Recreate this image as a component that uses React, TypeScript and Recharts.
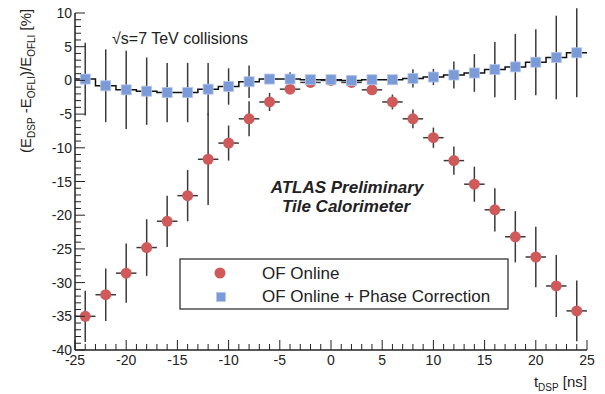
import { ComposedChart, Scatter, Line, XAxis, YAxis, ErrorBar } from 'recharts'

// bin centres of t_DSP [ns]
const tDsp = [-24, -22, -20, -18, -16, -14, -12, -10, -8, -6, -4, -2, 0, 2, 4, 6, 8, 10, 12, 14, 16, 18, 20, 22, 24]
const binHalfWidth = 1

// OF Online
const ofOnline = [-35.0, -31.8, -28.6, -24.8, -20.9, -17.1, -11.7, -9.3, -5.7, -3.2, -1.3, -0.3, 0.0, -0.3, -1.4, -3.2, -5.7, -8.5, -11.9, -15.4, -19.2, -23.2, -26.2, -30.5, -34.2]
const ofOnlineErr = [3.8, 3.9, 4.4, 4.2, 3.8, 3.8, 6.8, 2.6, 2.6, 1.35, 0.7, 0.3, 0.2, 0.3, 0.6, 1.1, 1.4, 1.5, 2.1, 2.6, 3.2, 3.8, 4.5, 4.6, 4.5]

// OF Online + Phase Correction
const phaseCorr = [0.2, -0.8, -1.4, -1.6, -1.8, -1.8, -1.3, -0.9, -0.2, 0.2, 0.2, 0.1, 0.1, 0.0, 0.1, 0.1, 0.3, 0.5, 0.8, 1.1, 1.6, 2.0, 2.7, 3.4, 4.1]
const phaseCorrErr = [5.4, 5.4, 5.8, 5.0, 4.4, 4.4, 3.9, 2.7, 2.4, 0.6, 1.0, 0.3, 0.3, 0.3, 0.3, 0.5, 1.35, 1.2, 2.0, 2.8, 4.1, 4.9, 4.9, 6.2, 6.6]

const xDomain: [number, number] = [-25, 25]
const yDomain: [number, number] = [-40, 10]
const xTicks = Array.from({ length: 51 }, (_, i) => i - 25)
const yTicks = Array.from({ length: 51 }, (_, i) => i - 40)

const RED = '#d05a5a'
const BLUE = '#7b9ad8'
const INK = '#222'
const FONT = '"Liberation Sans", Arial, Helvetica, sans-serif'

const redData = tDsp.map((x, i) => ({ x, y: ofOnline[i], ey: ofOnlineErr[i], ex: binHalfWidth }))
const blueData = tDsp.map((x, i) => ({ x, y: phaseCorr[i], ey: phaseCorrErr[i] }))
// histogram outline: left edge of every bin, plus the right edge of the last one
const stepData = [
  ...tDsp.map((x, i) => ({ x: x - binHalfWidth, y: phaseCorr[i] })),
  { x: tDsp[tDsp.length - 1] + binHalfWidth, y: phaseCorr[phaseCorr.length - 1] },
]

const isMajor = (v: number) => v % 5 === 0

function BottomTick({ x, y, payload }: any) {
  const v = payload.value
  return (
    <g>
      <line x1={x} y1={y} x2={x} y2={y - (isMajor(v) ? 10 : 6)} stroke={INK} strokeWidth={1} />
      {isMajor(v) && (
        <text x={x} y={y + 15} textAnchor="middle" fontSize={14} fontFamily={FONT} fill={INK}>{v}</text>
      )}
    </g>
  )
}

function TopTick({ x, y, payload }: any) {
  const v = payload.value
  return <line x1={x} y1={y} x2={x} y2={y + (isMajor(v) ? 10 : 5)} stroke={INK} strokeWidth={1} />
}

function LeftTick({ x, y, payload }: any) {
  const v = payload.value
  return (
    <g>
      <line x1={x} y1={y} x2={x + (isMajor(v) ? 10 : 6)} y2={y} stroke={INK} strokeWidth={1} />
      {isMajor(v) && (
        <text x={x - 3} y={y + 5} textAnchor="end" fontSize={14} fontFamily={FONT} fill={INK}>{v}</text>
      )}
    </g>
  )
}

function RightTick({ x, y, payload }: any) {
  const v = payload.value
  return <line x1={x} y1={y} x2={x - (isMajor(v) ? 10 : 6)} y2={y} stroke={INK} strokeWidth={1} />
}

const RedDot = ({ cx, cy }: any) => <circle cx={cx} cy={cy} r={5.5} fill={RED} />
const BlueSquare = ({ cx, cy }: any) => (
  <rect x={cx - 5} y={cy - 5} width={10} height={10} fill={BLUE} stroke="#b4c6ec" strokeWidth={0.8} />
)
const NoShape = () => <g />

export default function App() {
  return (
    <div style={{ position: 'absolute', left: 0, top: 0, width: 605, height: 394, background: '#fff' }}>
      <ComposedChart width={605} height={394} margin={{ top: 13, right: 18, bottom: 0, left: 0 }}>
        <XAxis
          xAxisId="b" dataKey="x" type="number" domain={xDomain} ticks={xTicks} interval={0}
          allowDataOverflow height={44} tickSize={0} tickMargin={0} tickLine={false}
          axisLine={{ stroke: INK, strokeWidth: 1.5 }} tick={BottomTick}
        />
        <XAxis
          xAxisId="t" orientation="top" dataKey="x" type="number" domain={xDomain} ticks={xTicks} interval={0}
          allowDataOverflow height={0} tickSize={0} tickMargin={0} tickLine={false}
          axisLine={{ stroke: INK, strokeWidth: 1.5 }} tick={TopTick}
        />
        <YAxis
          yAxisId="l" type="number" domain={yDomain} ticks={yTicks} interval={0}
          allowDataOverflow width={75} tickSize={0} tickMargin={0} tickLine={false}
          axisLine={{ stroke: INK, strokeWidth: 1.5 }} tick={LeftTick}
        />
        <YAxis
          yAxisId="r" orientation="right" type="number" domain={yDomain} ticks={yTicks} interval={0}
          allowDataOverflow width={0} tickSize={0} tickMargin={0} tickLine={false}
          axisLine={{ stroke: INK, strokeWidth: 1.5 }} tick={RightTick}
        />

        <Scatter xAxisId="b" yAxisId="l" data={redData} dataKey="y" shape={RedDot} isAnimationActive={false} name="OF Online">
          <ErrorBar dataKey="ey" direction="y" width={0} stroke="#3a3a3a" strokeWidth={1.5} isAnimationActive={false} />
          <ErrorBar dataKey="ex" direction="x" width={0} stroke="#3a3a3a" strokeWidth={1.5} isAnimationActive={false} />
        </Scatter>
        <Scatter xAxisId="b" yAxisId="l" data={blueData} dataKey="y" shape={BlueSquare} isAnimationActive={false} name="OF Online + Phase Correction" />
        <Scatter xAxisId="b" yAxisId="l" data={blueData} dataKey="y" shape={NoShape} isAnimationActive={false} legendType="none">
          <ErrorBar dataKey="ey" direction="y" width={0} stroke="#3a3a3a" strokeWidth={1.5} isAnimationActive={false} />
        </Scatter>
        <Line
          xAxisId="b" yAxisId="l" data={stepData} dataKey="y" type="stepAfter" stroke="#111" strokeWidth={1.5}
          dot={false} activeDot={false} isAnimationActive={false} legendType="none"
        />

        {/* y-axis title */}
        <text transform="translate(31,153) rotate(-90)" fontFamily={FONT} fontSize={15} fill={INK}>
          (E<tspan fontSize={10} dy={4}>DSP</tspan>
          <tspan dy={-4}> -E</tspan><tspan fontSize={10} dy={4}>OFLI</tspan>
          <tspan dy={-4}>)/E</tspan><tspan fontSize={10} dy={4}>OFLI</tspan>
          <tspan dy={-4}> [%]</tspan>
        </text>
        {/* x-axis title */}
        <text x={587} y={387} textAnchor="end" fontFamily={FONT} fontSize={15} fill={INK}>
          t<tspan fontSize={10} dy={4}>DSP</tspan><tspan dy={-4}> [ns]</tspan>
        </text>

        <text x={112} y={44} fontFamily={FONT} fontSize={16} fill={INK}>√s=7 TeV collisions</text>
        <text x={347} y={193} textAnchor="middle" fontFamily={FONT} fontSize={17} fontWeight="bold" fontStyle="italic" fill={INK}>
          ATLAS Preliminary
        </text>
        <text x={346} y={212} textAnchor="middle" fontFamily={FONT} fontSize={17} fontWeight="bold" fontStyle="italic" fill={INK}>
          Tile Calorimeter
        </text>

        {/* legend */}
        <g>
          <rect x={180} y={259} width={328} height={50} fill="#fff" stroke={INK} strokeWidth={1.2} />
          <circle cx={220} cy={273} r={5.5} fill={RED} />
          <rect x={216.5} y={292.5} width={9} height={9} fill={BLUE} stroke="#b4c6ec" strokeWidth={0.8} />
          <text x={262} y={279} fontFamily={FONT} fontSize={17} fill={INK}>OF Online</text>
          <text x={262} y={302} fontFamily={FONT} fontSize={17} fill={INK}>OF Online + Phase Correction</text>
        </g>
      </ComposedChart>
    </div>
  )
}
